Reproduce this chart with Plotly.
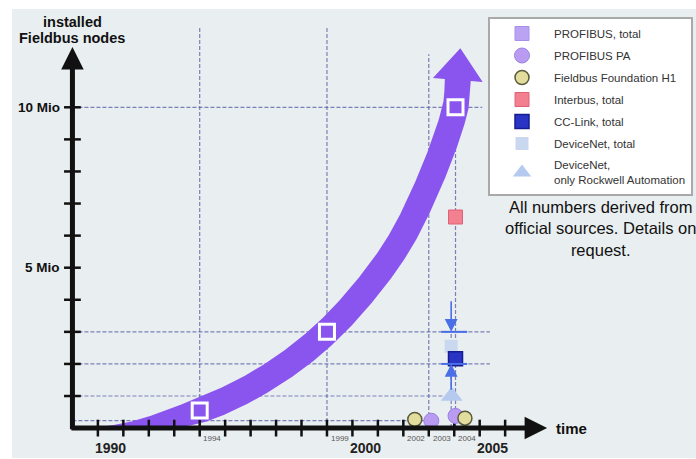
import numpy as np
import plotly.graph_objects as go

# ---------------- data ----------------
profibus_total_year = [1994.0, 1999.0, 2004.05]
profibus_total_mio = [0.55, 3.0, 10.0]

profibus_pa_year = [2003.1, 2004.05]
profibus_pa_mio = [0.23, 0.38]

ff_h1_year = [2002.45, 2004.42]
ff_h1_mio = [0.27, 0.31]

interbus_year = [2004.05]
interbus_mio = [6.58]

cc_link_year = [2004.05]
cc_link_mio = [2.16]

devicenet_year = [2003.88]
devicenet_mio = [2.55]
devicenet_range_mio = [2.0, 3.0]

devicenet_rockwell_year = [2003.9]
devicenet_rockwell_mio = [1.0]

# guide path of the large purple growth arrow
trend_year = [1989.7, 1992.0, 1994.0, 1996.5, 1999.0, 2001.5, 2002.9, 2004.05, 2004.14]
trend_mio = [0.0, 0.17, 0.55, 1.5, 3.0, 5.35, 7.45, 10.0, 10.85]

# axis ticks / labels
tick_years = list(range(1990, 2007))
big_year_labels = [1990, 2000, 2005]
small_year_labels = [1994, 1999, 2002, 2003, 2004]
ytick_mio = list(range(1, 11))
ylabel_mio = [5, 10]
ylabel_text = ["5 Mio", "10 Mio"]

# ---------------- geometry ----------------
W, H = 696, 459
ML, MR, MT, MB = 34, 112, 10, 4
PW, PH = W - ML - MR, H - MT - MB
PXX = 25.5      # px per year
PXY = 32.08     # px per Mio
X_REF, X_REF_PX = 1994, 200
Y0_PX = 428.1
x0 = X_REF - (X_REF_PX - ML) / PXX
x1 = x0 + PW / PXX
y0 = -((H - MB) - Y0_PX) / PXY
y1 = y0 + PH / PXY


def ypx(p):
    return (Y0_PX - p) / PXY


def xpx(p):
    return X_REF + (p - X_REF_PX) / PXX


FONT = "Liberation Sans, Arial, sans-serif"
PURPLE = "#8a55ee"
DASH = "rgba(95,100,170,0.8)"
BLUE = "#4a6ee6"


# ---------------- purple growth arrow (polygon built in pixel space) ----------------
def catmull_rom(P, n=40, alpha=0.5):
    P = np.asarray(P, float)
    P = np.vstack([2 * P[0] - P[1], P, 2 * P[-1] - P[-2]])
    out = []
    for i in range(1, len(P) - 2):
        p0, p1, p2, p3 = P[i - 1], P[i], P[i + 1], P[i + 2]
        t0 = 0.0
        t1 = t0 + np.linalg.norm(p1 - p0) ** alpha
        t2 = t1 + np.linalg.norm(p2 - p1) ** alpha
        t3 = t2 + np.linalg.norm(p3 - p2) ** alpha
        t = np.linspace(t1, t2, n, endpoint=False)[:, None]
        A1 = (t1 - t) / (t1 - t0) * p0 + (t - t0) / (t1 - t0) * p1
        A2 = (t2 - t) / (t2 - t1) * p1 + (t - t1) / (t2 - t1) * p2
        A3 = (t3 - t) / (t3 - t2) * p2 + (t - t2) / (t3 - t2) * p3
        B1 = (t2 - t) / (t2 - t0) * A1 + (t - t0) / (t2 - t0) * A2
        B2 = (t3 - t) / (t3 - t1) * A2 + (t - t1) / (t3 - t1) * A3
        out.append((t2 - t) / (t2 - t1) * B1 + (t - t1) / (t2 - t1) * B2)
    out.append(P[-2][None, :])
    return np.vstack(out)


guide = np.column_stack([(np.array(trend_year) - X_REF) * PXX, np.array(trend_mio) * PXY])
C = catmull_rom(guide)
T = np.gradient(C, axis=0)
T /= np.linalg.norm(T, axis=1)[:, None]
N = np.column_stack([-T[:, 1], T[:, 0]])
seg = np.linalg.norm(np.diff(C, axis=0), axis=1)
s = np.concatenate([[0], np.cumsum(seg)])
HW, TAPER = 13.0, 125.0
u = np.clip(s / TAPER, 0, 1)
w = HW * (3 * u ** 2 - 2 * u ** 3)
upper = C + N * w[:, None]
lower = C - N * w[:, None]
E, Te, Ne = C[-1], T[-1], N[-1]
HEAD_HW, HEAD_L = 25.0, 32.0
head = np.array([E + Ne * HEAD_HW, E + Te * HEAD_L, E - Ne * HEAD_HW])
poly = np.vstack([upper, head, lower[::-1]])
band_x = poly[:, 0] / PXX + X_REF
band_y = poly[:, 1] / PXY

fig = go.Figure()

fig.add_trace(go.Scatter(x=band_x, y=band_y, fill="toself", fillcolor=PURPLE, mode="lines",
                         line=dict(width=0, color=PURPLE), hoverinfo="skip", showlegend=False))

# axis tick marks (crossing the axes)
fig.add_trace(go.Scatter(x=tick_years, y=[0] * len(tick_years), mode="markers",
                         marker=dict(symbol="line-ns", size=12, line=dict(width=2.5, color="#111")),
                         hoverinfo="skip", showlegend=False))
fig.add_trace(go.Scatter(x=[1989] * len(ytick_mio), y=ytick_mio, mode="markers",
                         marker=dict(symbol="line-ew", size=12, line=dict(width=2.5, color="#111")),
                         hoverinfo="skip", showlegend=False))

# PROFIBUS total: markers on the arrow + legend entry
fig.add_trace(go.Scatter(x=profibus_total_year, y=profibus_total_mio, mode="markers",
                         marker=dict(symbol="square", size=15, color=PURPLE, line=dict(width=3, color="white")),
                         showlegend=False, name="PROFIBUS, total"))
fig.add_trace(go.Scatter(x=[None], y=[None], mode="markers", name="PROFIBUS, total",
                         legendgroup="a", legendrank=1,
                         marker=dict(symbol="square", size=14, color="#b9a3f2", line=dict(width=1, color="#a890ea"))))
fig.add_trace(go.Scatter(x=profibus_pa_year, y=profibus_pa_mio, mode="markers", name="PROFIBUS PA",
                         legendgroup="b", legendrank=2,
                         marker=dict(symbol="circle", size=15, color="#b99cf2", line=dict(width=1, color="#9a80e4"))))
fig.add_trace(go.Scatter(x=ff_h1_year, y=ff_h1_mio, mode="markers", name="Fieldbus Foundation H1",
                         legendgroup="c", legendrank=3,
                         marker=dict(symbol="circle", size=14, color="#e2dd9c", line=dict(width=1.5, color="#5a5a3a"))))
fig.add_trace(go.Scatter(x=interbus_year, y=interbus_mio, mode="markers", name="Interbus, total",
                         legendgroup="d", legendrank=4,
                         marker=dict(symbol="square", size=14, color="#f2808e", line=dict(width=1, color="#e0607a"))))
fig.add_trace(go.Scatter(x=devicenet_year, y=devicenet_mio, mode="markers", name="DeviceNet, total",
                         legendgroup="f", legendrank=6,
                         marker=dict(symbol="square", size=13, color="#c9d7ef", line=dict(width=0))))
fig.add_trace(go.Scatter(x=cc_link_year, y=cc_link_mio, mode="markers", name="CC-Link, total",
                         legendgroup="e", legendrank=5,
                         marker=dict(symbol="square", size=14, color="#2a34c4", line=dict(width=1.5, color="#141c90"))))
fig.add_trace(go.Scatter(x=devicenet_rockwell_year, y=devicenet_rockwell_mio, mode="markers",
                         name="DeviceNet,<br>only Rockwell Automation",
                         legendgroup="g", legendrank=7,
                         marker=dict(symbol="triangle-up", size=19, color="#b6caef", line=dict(width=0))))

# ---------------- guide lines ----------------
shapes = []
shapes.append(dict(type="rect", xref="paper", yref="paper",
                   x0=(12 - ML) / PW, x1=(W + 10 - ML) / PW,
                   y0=(H - MB - 458) / PH, y1=(H - MB - 9) / PH,
                   fillcolor="#e9eef0", line=dict(width=0), layer="below"))


def hline(y, xa, xb):
    shapes.append(dict(type="line", xref="x", yref="y", x0=xa, x1=xb, y0=y, y1=y,
                       line=dict(color=DASH, width=1.2, dash="4px,2px"), layer="below"))


def vline(x, ya, yb):
    shapes.append(dict(type="line", xref="x", yref="y", x0=x, x1=x, y0=ya, y1=yb,
                       line=dict(color=DASH, width=1.2, dash="4px,2px"), layer="below"))


hline(profibus_total_mio[2], 1989, 2005.1)
hline(devicenet_range_mio[1], 1989, 2005.4)
hline(devicenet_range_mio[0], 1989, 2005.4)
hline(devicenet_rockwell_mio[0], 1989, 2003.6)
hline(profibus_pa_mio[0], 1989, 2003.0)
vline(profibus_total_year[0], 0, 12.5)
vline(profibus_total_year[1], 0, 12.5)
vline(2003.0, 0, 11.65)
vline(profibus_total_year[2], 0, profibus_total_mio[2])
vline(devicenet_year[0], 0, devicenet_range_mio[1])
for v in devicenet_range_mio:
    shapes.append(dict(type="line", xref="x", yref="y", x0=2003.49, x1=2004.51, y0=v, y1=v,
                       line=dict(color=BLUE, width=2)))

# ---------------- annotations ----------------
ann = []
ann.append(dict(x=1989, y=11.88, ax=1989, ay=-0.08, xref="x", yref="y", axref="x", ayref="y",
                text="", showarrow=True, arrowhead=2, arrowwidth=5, arrowsize=0.9, arrowcolor="#111"))
ann.append(dict(x=2007.65, y=0, ax=1988.9, ay=0, xref="x", yref="y", axref="x", ayref="y",
                text="", showarrow=True, arrowhead=2, arrowwidth=5, arrowsize=0.9, arrowcolor="#111"))
ann.append(dict(x=devicenet_year[0], y=devicenet_range_mio[1], ax=devicenet_year[0], ay=4.0,
                xref="x", yref="y", axref="x", ayref="y", text="", showarrow=True,
                arrowhead=2, arrowwidth=1.6, arrowsize=1.6, arrowcolor=BLUE))
ann.append(dict(x=devicenet_year[0], y=devicenet_range_mio[0], ax=devicenet_year[0], ay=1.15,
                xref="x", yref="y", axref="x", ayref="y", text="", showarrow=True,
                arrowhead=2, arrowwidth=1.6, arrowsize=1.6, arrowcolor=BLUE))

ann.append(dict(x=1989, y=ypx(22), xref="x", yref="y", text="<b>installed</b>", showarrow=False,
                xanchor="center", font=dict(family=FONT, size=14.5, color="#111")))
ann.append(dict(x=1989, y=ypx(38), xref="x", yref="y", text="<b>Fieldbus nodes</b>", showarrow=False,
                xanchor="center", font=dict(family=FONT, size=14.5, color="#111")))
for v, t in zip(ylabel_mio, ylabel_text):
    ann.append(dict(x=xpx(62), y=v, xref="x", yref="y", text="<b>%s</b>" % t, showarrow=False,
                    xanchor="right", font=dict(family=FONT, size=13.5, color="#111")))
for yr in big_year_labels:
    ann.append(dict(x=yr + 0.5, y=ypx(448), xref="x", yref="y", text="<b>%d</b>" % yr, showarrow=False,
                    xanchor="center", font=dict(family=FONT, size=14, color="#222")))
for yr in small_year_labels:
    ann.append(dict(x=yr + 0.5, y=ypx(438), xref="x", yref="y", text="%d" % yr, showarrow=False,
                    xanchor="center", font=dict(family=FONT, size=8, color="#555")))
ann.append(dict(x=xpx(555), y=0, xref="x", yref="y", text="<b>time</b>", showarrow=False,
                xanchor="left", font=dict(family=FONT, size=15, color="#111")))
ann.append(dict(x=(602 - ML) / PW, y=(H - MB - 228) / PH, xref="paper", yref="paper",
                text="All numbers derived from<br>official sources. Details on<br>request.",
                showarrow=False, align="center", xanchor="center", yanchor="middle",
                font=dict(family=FONT, size=16.5, color="#111")))

fig.update_layout(
    width=W, height=H, margin=dict(l=ML, r=MR, t=MT, b=MB, pad=0),
    paper_bgcolor="white", plot_bgcolor="rgba(0,0,0,0)",
    xaxis=dict(range=[x0, x1], visible=False, fixedrange=True),
    yaxis=dict(range=[y0, y1], visible=False, fixedrange=True),
    shapes=shapes, annotations=ann,
    legend=dict(x=(488 - ML) / PW, y=(H - MB - 17) / PH, xanchor="left", yanchor="top",
                bgcolor="white", bordercolor="#a9a9a9", borderwidth=2,
                font=dict(family=FONT, size=11.5, color="#333"),
                itemwidth=54, tracegroupgap=3, itemsizing="trace"),
    showlegend=True,
)

fig.write_html("out.html", config={"displayModeBar": False},
               post_script="document.body.style.margin='0';")
